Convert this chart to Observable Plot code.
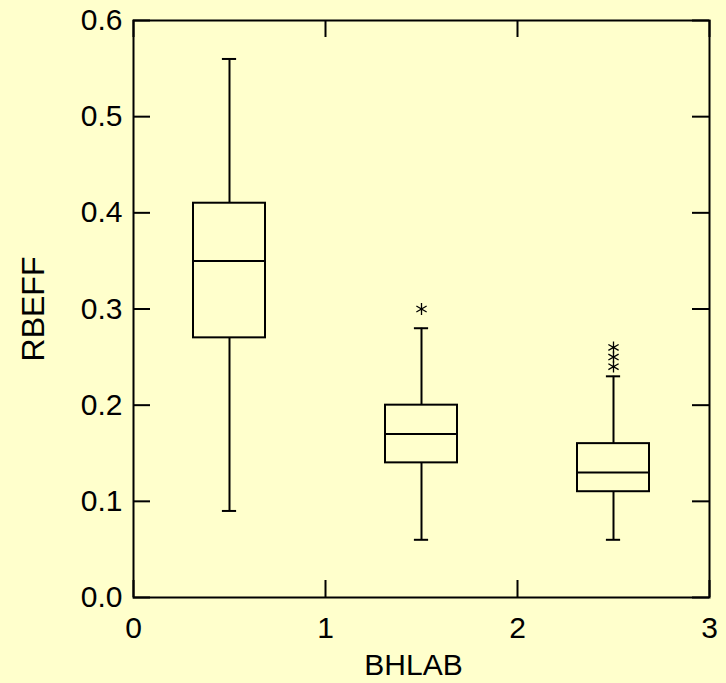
<!DOCTYPE html>
<html>
<head>
<meta charset="utf-8">
<script src="https://cdn.jsdelivr.net/npm/d3@7"></script>
<script src="https://cdn.jsdelivr.net/npm/@observablehq/plot@0.6"></script>
<style>
  html, body { margin: 0; padding: 0; background: #FFFFCC; }
  #chart { width: 726px; height: 683px; }
</style>
</head>
<body>
<div id="chart"></div>
<script>
// Data
const groups      = [0.5, 1.5, 2.5];          // box centres on BHLAB axis
const whiskerLow  = [0.09, 0.06, 0.06];
const q1          = [0.27, 0.14, 0.11];
const median      = [0.35, 0.17, 0.13];
const q3          = [0.41, 0.20, 0.16];
const whiskerHigh = [0.56, 0.28, 0.23];
const outlierX    = [1.5, 2.5, 2.5, 2.5];
const outlierY    = [0.30, 0.24, 0.25, 0.26];
const xTicks      = [0, 1, 2, 3];
const yTicks      = [0.0, 0.1, 0.2, 0.3, 0.4, 0.5, 0.6];

const boxHalf = 0.1875;   // half box width in BHLAB units
const capHalf = 0.037;    // half whisker-cap width

const boxes = groups.map((g, i) => ({
  g, lo: whiskerLow[i], q1: q1[i], med: median[i], q3: q3[i], hi: whiskerHigh[i]
}));
const outliers = outlierX.map((x, i) => ({x, y: outlierY[i]}));

const W = 726, H = 683;
const mL = 133, mR = 17, mT = 20, mB = 86;
const innerW = W - mL - mR, innerH = H - mT - mB;
const tickLen = 17;

const chart = Plot.plot({
  width: W, height: H,
  marginLeft: mL, marginRight: mR, marginTop: mT, marginBottom: mB,
  style: {background: "#FFFFCC", fontFamily: "'Liberation Sans', Arial, sans-serif", color: "black"},
  x: {domain: [0, 3]},
  y: {domain: [0, 0.6]},
  marks: [
    Plot.axisX(xTicks, {tickSize: 0, tickPadding: 19, fontSize: 30, label: null, tickFormat: d3.format("d")}),
    Plot.axisY(yTicks, {tickSize: 0, tickPadding: 11, fontSize: 30, label: null, tickFormat: d3.format(".1f")}),
    Plot.tickY(yTicks, {y: d => d, insetRight: innerW - tickLen, stroke: "black", strokeWidth: 2}),
    Plot.tickY(yTicks, {y: d => d, insetLeft: innerW - tickLen, stroke: "black", strokeWidth: 2}),
    Plot.tickX(xTicks, {x: d => d, insetTop: innerH - tickLen, stroke: "black", strokeWidth: 2}),
    Plot.tickX(xTicks, {x: d => d, insetBottom: innerH - tickLen, stroke: "black", strokeWidth: 2}),
    Plot.frame({stroke: "black", strokeWidth: 2}),
    Plot.ruleX(boxes, {x: "g", y1: "lo", y2: "q1", stroke: "black", strokeWidth: 2}),
    Plot.ruleX(boxes, {x: "g", y1: "q3", y2: "hi", stroke: "black", strokeWidth: 2}),
    Plot.ruleY(boxes, {y: "lo", x1: d => d.g - capHalf, x2: d => d.g + capHalf, stroke: "black", strokeWidth: 2}),
    Plot.ruleY(boxes, {y: "hi", x1: d => d.g - capHalf, x2: d => d.g + capHalf, stroke: "black", strokeWidth: 2}),
    Plot.rect(boxes, {x1: d => d.g - boxHalf, x2: d => d.g + boxHalf, y1: "q1", y2: "q3", fill: "none", stroke: "black", strokeWidth: 2}),
    Plot.ruleY(boxes, {y: "med", x1: d => d.g - boxHalf, x2: d => d.g + boxHalf, stroke: "black", strokeWidth: 2}),
    Plot.dot(outliers, {x: "x", y: "y", symbol: "asterisk", r: 5.6, stroke: "black", strokeWidth: 1.3}),
    Plot.text(["BHLAB"], {frameAnchor: "bottom", dy: 68, dx: -8, fontSize: 30, fill: "black", text: d => d,
      letterSpacing: -1.5, textAnchor: "middle", lineAnchor: "middle"}),
    Plot.text(["RBEFF"], {frameAnchor: "left", dx: -100, rotate: -90, fontSize: 32, fill: "black", text: d => d,
      textAnchor: "middle", lineAnchor: "middle"})
  ]
});
document.getElementById("chart").appendChild(chart);
</script>
</body>
</html>
